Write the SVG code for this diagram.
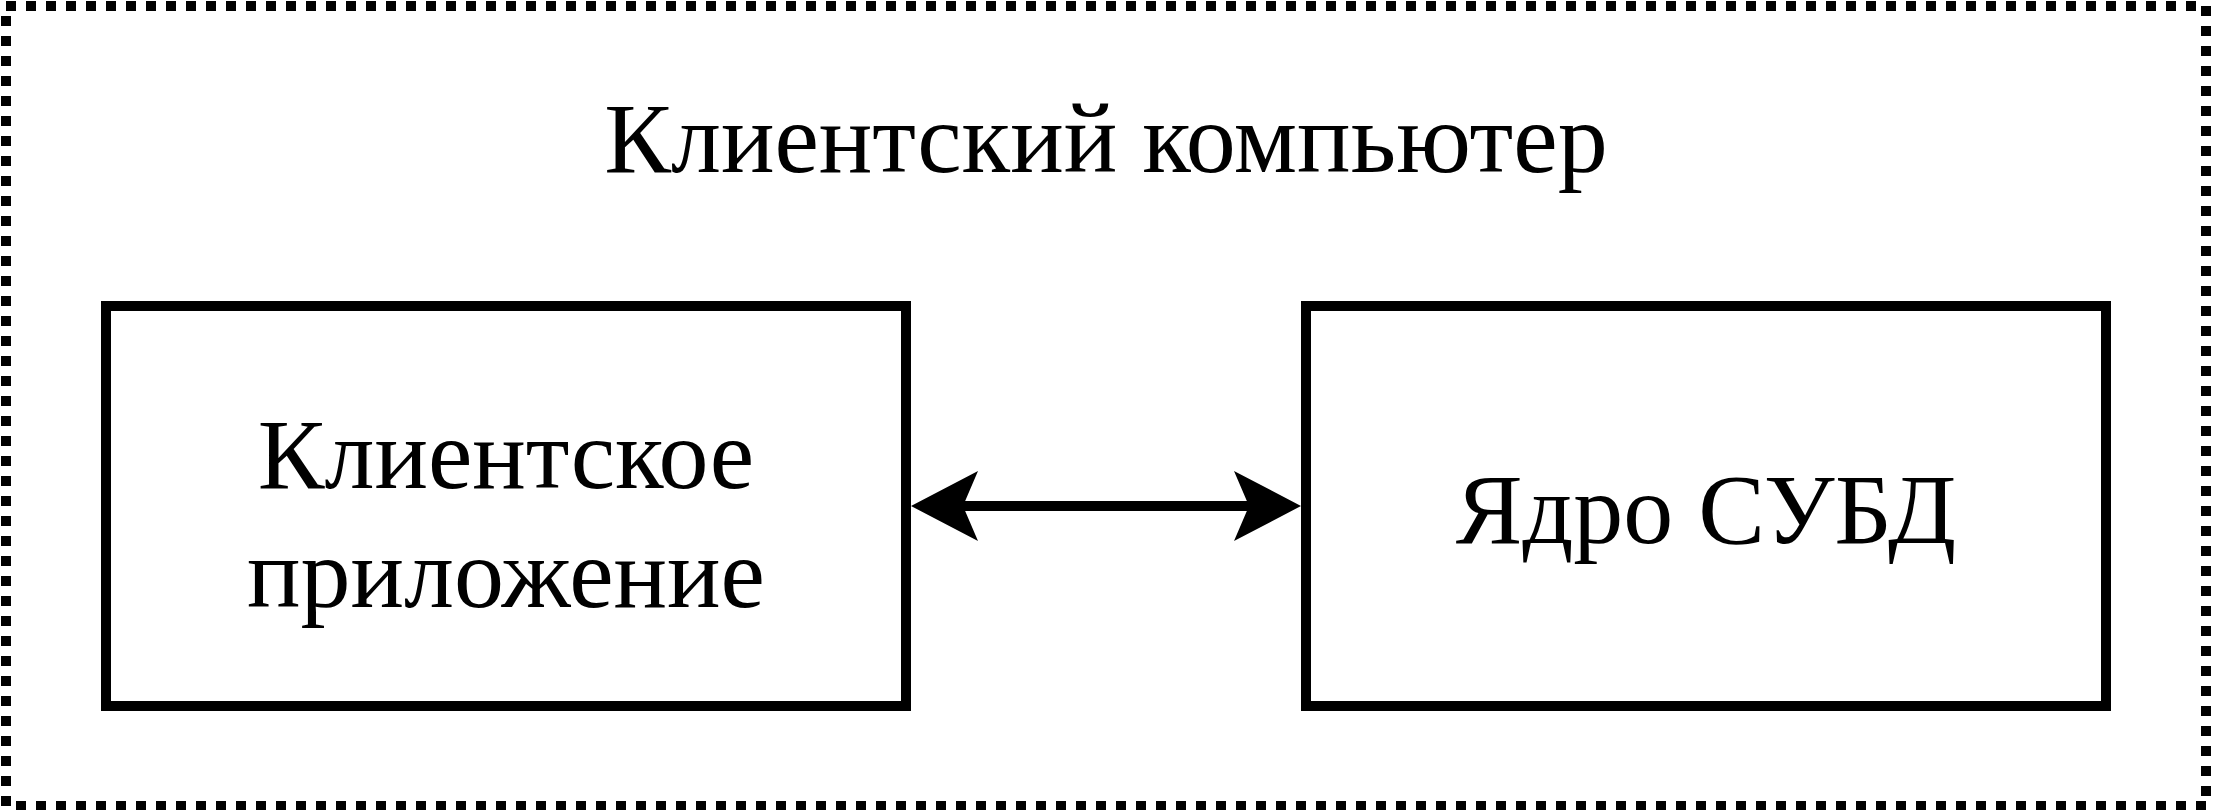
<svg xmlns="http://www.w3.org/2000/svg" width="2214" height="810" viewBox="0 0 2214 810">
  <style>
    .box { fill: #ffffff; stroke: #000000; stroke-width: 10; }
    .frame { fill: none; stroke: #000000; stroke-width: 10; stroke-dasharray: 10 10; }
    .label { font-family: "Liberation Serif", "Times New Roman", serif; font-size: 100px; fill: #000000; text-anchor: middle; }
    .edge { fill: none; stroke: #000000; stroke-width: 10; }
  </style>
  <defs>
    <marker id="arrow" markerUnits="userSpaceOnUse" markerWidth="80" markerHeight="80" refX="0" refY="0" viewBox="-20 -40 80 80" orient="auto-start-reverse" overflow="visible">
      <path d="M52,0 L-15,-35 L0,0 L-15,35 Z" fill="#000000"/>
    </marker>
  </defs>
  <rect width="2214" height="810" fill="#ffffff"/>
  <g id="client-computer">
    <rect class="frame" x="6" y="6" width="2200" height="800"/>
    <text class="label" x="1106" y="172">Клиентский компьютер</text>
  </g>
  <g id="client-app">
    <rect class="box" x="106" y="306" width="800" height="400"/>
    <text class="label" x="506" y="488">Клиентское</text>
    <text class="label" x="506" y="607">приложение</text>
  </g>
  <g id="dbms-core">
    <rect class="box" x="1306" y="306" width="800" height="400"/>
    <text class="label" x="1706" y="543">Ядро СУБД</text>
  </g>
  <g id="connectors">
    <path class="edge" d="M963,506 L1249,506" marker-start="url(#arrow)" marker-end="url(#arrow)"/>
  </g>
</svg>
